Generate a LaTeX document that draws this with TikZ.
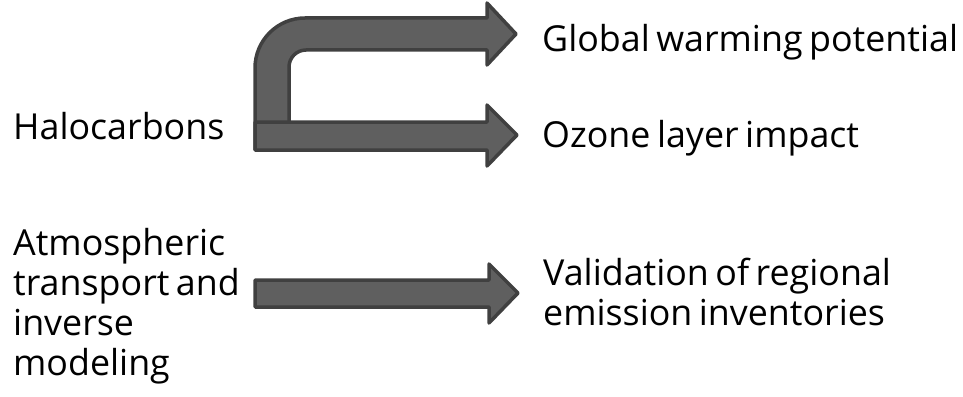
\documentclass[tikz,border=0pt]{standalone}
\usepackage{fontspec}
\setmainfont[WordSpace=0.7]{Open Sans}
\begin{document}
\begin{tikzpicture}[x=1pt,y=-1pt,
  lbl/.style={anchor=base west,inner sep=0pt,font=\fontsize{35.8}{40}\selectfont},
  blockarrow/.style={draw=arrowedge,fill=arrowfill,line width=3.5pt,line join=round}]
\definecolor{arrowedge}{HTML}{404040}
\definecolor{arrowfill}{HTML}{5F5F5F}
\useasboundingbox (0,0) rectangle (963,396);
% bent arrow
\draw[blockarrow] (255,150) -- (255,68) arc[start angle=180,end angle=270,radius=50]
  -- (487,18) -- (487,3) -- (516,34) -- (487,65) -- (487,50) -- (306,50)
  arc[start angle=270,end angle=180,radius=17] -- (289,150) -- cycle;
% straight arrow (Halocarbons)
\draw[blockarrow] (255,122) -- (487,122) -- (487,105) -- (517,135) -- (487,166) -- (487,150) -- (255,150) -- cycle;
% straight arrow (transport)
\draw[blockarrow] (255,280) -- (489,280) -- (489,264) -- (518,293) -- (489,323) -- (489,307) -- (255,307) -- cycle;
\node[lbl] (halo) at (13,139) {Halocarbons};
\node[lbl,align=left] (atmos) at (13,375) {Atmospheric\\transport and\\inverse\\modeling};
\node[lbl] (gwp) at (542,52) {Global warming potential};
\node[lbl] (ozone) at (542,147) {Ozone layer impact};
\node[lbl,align=left] (valid) at (543,325) {Validation of regional\\emission inventories};
\end{tikzpicture}
\end{document}
